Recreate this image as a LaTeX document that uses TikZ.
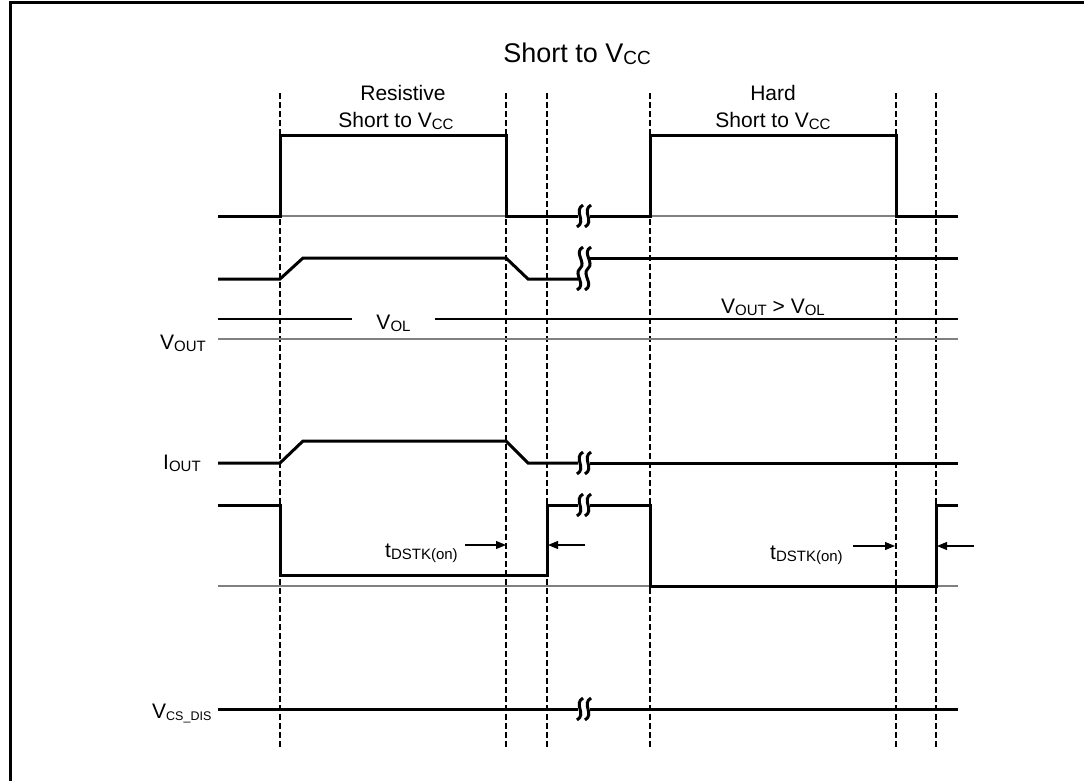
\documentclass[tikz,border=0pt]{standalone}
\usepackage{fontspec}
\setmainfont{Liberation Sans}
\usetikzlibrary{arrows.meta}
\newcommand{\lsub}[1]{\raisebox{-0.12em}{\fontsize{15}{15}\selectfont #1}}
\newcommand{\ssub}[1]{\raisebox{-0.12em}{\fontsize{12.5}{12.5}\selectfont #1}}
\newcommand{\tsub}[1]{\raisebox{-0.08em}{\fontsize{19}{19}\selectfont #1}}
\begin{document}
\begin{tikzpicture}[x=1pt,y=-1pt,
  sig/.style={line width=3pt},
  gline/.style={line width=1.5pt, draw=black!50},
  bline/.style={line width=1.1pt, draw=black},
  dsh/.style={line width=1.3pt, dash pattern=on 6pt off 3pt},
  arr/.style={line width=1.1pt, -{Triangle[length=10pt,width=8pt]}},
  lbl/.style={inner sep=0pt, font=\fontsize{21}{25}\selectfont},
  ttl/.style={inner sep=0pt, font=\fontsize{27}{32}\selectfont},
  brk/.pic={\draw[line width=3pt] (3,-11) .. controls (-7,-5) and (7,5) .. (-3,11);},
  tallbrk/.pic={\draw[line width=3pt] (3,-21.5) .. controls (-7,-16) and (7,-6) .. (0,0) .. controls (-7,6) and (7,16) .. (-3,21.5);}
]
\useasboundingbox (0,0) rectangle (1084,780);
% frame
\draw[line width=3pt] (10,782) -- (10,2) -- (1086,2);

% dashed guides
\foreach \x in {280,506,547,650,896,936} \draw[dsh] (\x,93) -- (\x,747);

% thin reference lines
\draw[gline] (218,216) -- (578,216);
\draw[gline] (590,216) -- (958,216);
\draw[gline] (218,339) -- (958,339);
\draw[gline] (218,586) -- (958,586);
\draw[bline] (218,319) -- (352,319);
\draw[bline] (435,319) -- (958,319);

% signal 1
\draw[sig] (218,216) -- (280,216) -- (280,135) -- (506,135) -- (506,216) -- (578,216);
\draw[sig] (590,216) -- (650,216) -- (650,135) -- (896,135) -- (896,216) -- (958,216);
\pic at (580,216) {brk}; \pic at (588,216) {brk};

% signal 2
\draw[sig] (218,279) -- (280,279) -- (303,258) -- (506,258) -- (528,279) -- (578,279);
\draw[sig] (590,258) -- (958,258);
\pic at (580,268.5) {tallbrk}; \pic at (588,268.5) {tallbrk};

% I_OUT
\draw[sig] (218,463) -- (280,463) -- (303,441) -- (506,441) -- (528,463) -- (578,463);
\draw[sig] (590,463) -- (958,463);
\pic at (580,463) {brk}; \pic at (588,463) {brk};

% signal 5
\draw[sig] (218,505) -- (280,505) -- (280,575) -- (547,575) -- (547,505) -- (578,505);
\draw[sig] (590,505) -- (650,505) -- (650,586) -- (936,586) -- (936,505) -- (958,505);
\pic at (580,505) {brk}; \pic at (588,505) {brk};

% V_CS_DIS
\draw[sig] (218,709) -- (578,709);
\draw[sig] (590,709) -- (958,709);
\pic at (580,709) {brk}; \pic at (588,709) {brk};

% arrows
\coordinate (a1s) at (465,545); \coordinate (a1e) at (506,545);
\coordinate (a2s) at (585,545); \coordinate (a2e) at (548,545);
\coordinate (a3s) at (853,546); \coordinate (a3e) at (895,546);
\coordinate (a4s) at (974,546); \coordinate (a4e) at (937,546);
\draw[arr] (a1s) -- (a1e);
\draw[arr] (a2s) -- (a2e);
\draw[arr] (a3s) -- (a3e);
\draw[arr] (a4s) -- (a4e);

% labels
\node[ttl, anchor=base] (title) at (577,62) {Short to V\tsub{CC}};
\node[lbl, anchor=base] (res1) at (403,100) {Resistive};
\node[lbl, anchor=base] (res2) at (396,127) {Short to V\lsub{CC}};
\node[lbl, anchor=base] (hard1) at (773,100) {Hard};
\node[lbl, anchor=base] (hard2) at (773,127) {Short to V\lsub{CC}};
\node[lbl, anchor=base] (vol) at (393.5,329) {V\lsub{OL}};
\node[lbl, anchor=base] (vgt) at (773,313) {V\lsub{OUT} > V\lsub{OL}};
\node[lbl, anchor=base west] (vout) at (160,349) {V\lsub{OUT}};
\node[lbl, anchor=base west] (iout) at (163,469) {I\lsub{OUT}};
\node[lbl, anchor=base west] (vcs) at (152,718) {V\ssub{CS\_DIS}};
\node[lbl, anchor=base west] (td1) at (385,557) {t\lsub{DSTK(on)}};
\node[lbl, anchor=base west] (td2) at (770,559) {t\lsub{DSTK(on)}};
\end{tikzpicture}
\end{document}
